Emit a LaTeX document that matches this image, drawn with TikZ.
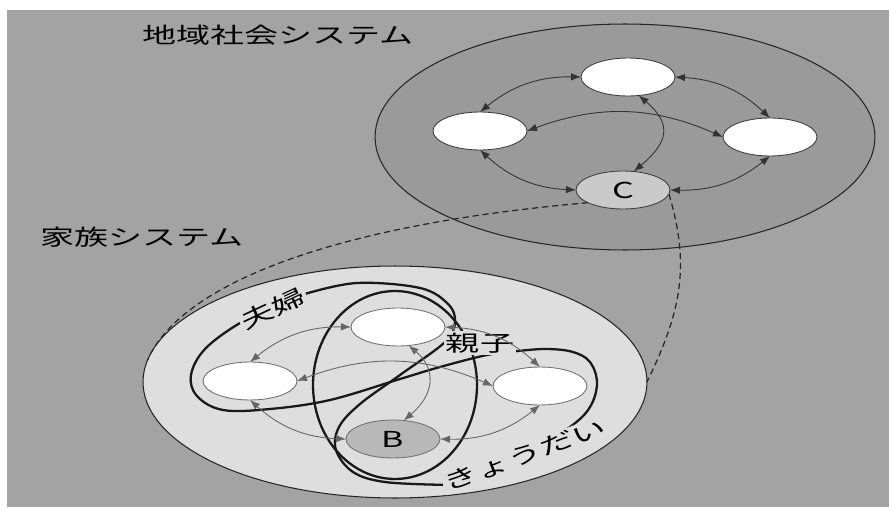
\documentclass[tikz,border=0pt]{standalone}
\usepackage{fontspec}
\newfontfamily\jpfont[FakeStretch=1.55]{Noto Sans CJK JP}
\usetikzlibrary{
    arrows.meta,
    shapes.geometric,
    backgrounds
}
\definecolor{paper}{RGB}{163,163,163}
\definecolor{ringgray}{RGB}{154,154,154}
\definecolor{famgray}{RGB}{222,222,222}
\definecolor{cgray}{RGB}{202,202,202}
\definecolor{bgray}{RGB}{184,184,184}

\begin{document}
\begin{tikzpicture}[
    x=0.02cm, y=0.02cm,
    font=\jpfont\fontsize{12.5}{15}\selectfont,
    ring/.style={
        ellipse,
        draw=black!85,
        line width=0.6pt,
        inner sep=0pt,
        outer sep=0pt
    },
    member/.style={
        ellipse,
        draw=black!75,
        line width=0.5pt,
        fill=white,
        minimum width=1.88cm,
        minimum height=0.76cm,
        inner sep=0pt,
        outer sep=0pt
    },
    link/.style={
        <->,
        >={Latex[length=2mm,width=1.5mm]},
        line width=0.5pt,
        draw=black!80
    },
    band/.style={
        draw=black!90,
        line width=1.3pt
    },
    bridge/.style={
        draw=black!85,
        line width=0.7pt,
        dash pattern=on 3.5pt off 2.2pt
    },
    tag/.style={
        fill=famgray,
        inner sep=1pt
    }
]
\useasboundingbox (0,0) rectangle (889,-510);

% =========================================================
% Community system members
% =========================================================
\node (societytitle) at (278,-35) {地域社会システム};

\node[member] (ct) at (628,-77) {};
\node[member] (cl) at (480,-131) {};
\node[member] (cr) at (770,-137) {};
\node[member, fill=cgray] (cc) at (623,-190) {C};

% =========================================================
% Family system members
% =========================================================
\node (familytitle) at (142,-237) {家族システム};

\node[member, draw=black!55] (ft) at (398,-327) {};
\node[member, draw=black!55] (fl) at (250,-381) {};
\node[member, draw=black!55] (fr) at (540,-386) {};
\node[member, draw=black!55, fill=bgray] (fb) at (393,-439) {B};

% =========================================================
% Subsystem labels
% =========================================================
\node[tag, rotate=25] (fufu) at (273,-309) {夫婦};
\node[tag] (oyako) at (480,-343) {親子};
\node[tag, rotate=20] (kyodai) at (525,-455) {きょうだい};

% =========================================================
% Rings, bands and bridges behind
% =========================================================
\begin{scope}[on background layer]
\fill[white] (0,0) rectangle (889,-510);
\fill[paper] (7,-10) rectangle (889,-507);

\node[ring, fill=ringgray, minimum width=10cm, minimum height=4.52cm] (society) at (625,-137) {};
\node[ring, fill=famgray, minimum width=10.08cm, minimum height=4.64cm] (family) at (395,-382) {};

\draw[bridge] (cc.200) .. controls (330,-225) and (180,-285) .. (family.175);
\draw[bridge] (cc.-5) .. controls (690,-265) and (682,-310) .. (family.east);

\draw[band] plot[smooth, tension=0.6] coordinates {(fufu.east) (357,-283) (420,-288) (448,-304) (455,-322) (445,-342) (400,-375) (360,-404) (339,-427) (336,-450) (353,-472) (385,-482) (kyodai.west)};
\draw[band] plot[smooth, tension=0.6] coordinates {(kyodai.center) (570,-427) (590,-407) (597,-383) (590,-362) (573,-352) (547,-349) (518,-351) (487,-355) (440,-367) (400,-379) (330,-400) (270,-409) (223,-410) (197,-396) (191,-375) (205,-349) (240,-323) (fufu.center)};

\node[ellipse, band, minimum width=3.28cm, minimum height=3.76cm] (oyakoring) at (395,-385) {};
\end{scope}

% =========================================================
% Community links
% =========================================================
\draw[link] (ct.west) to[bend right=20] (cl.north);
\draw[link] (ct.east) to[bend left=20] (cr.north);
\draw[link] (cl.south) to[bend right=20] (cc.west);
\draw[link] (cr.south) to[bend left=20] (cc.east);
\draw[link] (cl.east) to[bend left=22] (cr.west);
\draw[link] (ct.-60) to[out=-40, in=40, looseness=1.5] (cc.60);

% =========================================================
% Family links
% =========================================================
\draw[link, draw=black!60] (ft.west) to[bend right=20] (fl.north);
\draw[link, draw=black!60] (ft.east) to[bend left=20] (fr.north);
\draw[link, draw=black!60] (fl.south) to[bend right=20] (fb.west);
\draw[link, draw=black!60] (fr.south) to[bend left=20] (fb.east);
\draw[link, draw=black!60] (fl.east) to[bend left=22] (fr.west);
\draw[link, draw=black!60] (ft.-60) to[out=-40, in=40, looseness=1.3] (fb.60);

\end{tikzpicture}
\end{document}
